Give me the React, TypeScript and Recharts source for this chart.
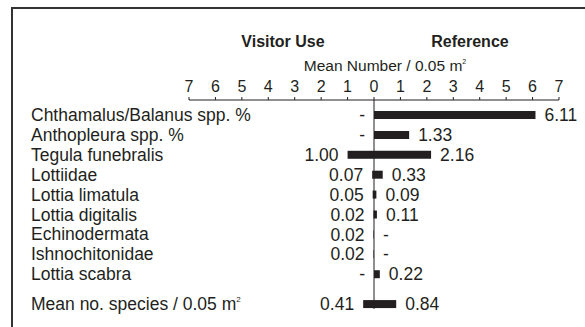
import { BarChart, Bar, XAxis, YAxis, ReferenceLine, LabelList } from 'recharts';

const categories = [
  'Chthamalus/Balanus spp. %',
  'Anthopleura spp. %',
  'Tegula funebralis',
  'Lottiidae',
  'Lottia limatula',
  'Lottia digitalis',
  'Echinodermata',
  'Ishnochitonidae',
  'Lottia scabra',
  'Mean no. species / 0.05 m',
];
const visitorUse = [0, 0, 1.0, 0.07, 0.05, 0.02, 0.02, 0.02, 0, 0.41];
const reference = [6.11, 1.33, 2.16, 0.33, 0.09, 0.11, 0, 0, 0.22, 0.84];
const axisTicks = [-7, -6, -5, -4, -3, -2, -1, 0, 1, 2, 3, 4, 5, 6, 7];

const FONT = '"Liberation Sans", Arial, Helvetica, sans-serif';
const INK = '#231f20';

// last row (the summary) sits half a row lower than the species rows
const rows = categories.map((name, i) => ({
  row: i === categories.length - 1 ? i + 0.5 : i,
  name,
  visitor: visitorUse[i] === 0 ? 0 : -visitorUse[i],
  reference: reference[i],
}));

function CategoryTick(props: any) {
  const { y, payload } = props;
  const entry = rows.find((r) => r.row === payload.value);
  if (!entry) return null;
  const isSummary = entry.row !== Math.round(entry.row);
  return (
    <text x={31} y={y} dy="0.35em" fontSize={17.5} fontFamily={FONT} fill={INK} textAnchor="start">
      {entry.name}
      {isSummary ? (
        <tspan fontSize={8} dy={-8}>
          2
        </tspan>
      ) : null}
    </text>
  );
}

// zero values are shown as "-"
function valueLabel(side: 'left' | 'right') {
  return (p: any) => {
    const vb = p.viewBox ?? p;
    const x0 = Number(vb.x);
    const w = Number(vb.width) || 0;
    const y = Number(vb.y) + (Number(vb.height) || 0) / 2;
    const raw = p.value;
    const v = Array.isArray(raw) ? Math.abs(raw[1] - raw[0]) : Math.abs(Number(raw));
    const tx = side === 'left' ? Math.min(x0, x0 + w) - 9 : Math.max(x0, x0 + w) + 9;
    return (
      <text
        key={`${side}-${y}`}
        x={tx}
        y={y}
        dy="0.35em"
        fontSize={17.5}
        fontFamily={FONT}
        fill={INK}
        textAnchor={side === 'left' ? 'end' : 'start'}
      >
        {v === 0 ? '-' : v.toFixed(2)}
      </text>
    );
  };
}

export default function App() {
  return (
    <div style={{ position: 'absolute', left: 0, top: 0, width: 585, height: 327, overflow: 'hidden', background: '#fff' }}>
      <div
        style={{
          position: 'absolute',
          left: 11,
          top: 7,
          width: 620,
          height: 360,
          border: '2px solid #333',
        }}
      />
      <BarChart
        width={585}
        height={327}
        data={rows}
        layout="vertical"
        stackOffset="sign"
        margin={{ top: 70, right: 26, bottom: 18, left: 31 }}
        style={{ position: 'absolute', left: 0, top: 0 }}
      >
        <XAxis
          type="number"
          orientation="top"
          domain={[-7, 7]}
          ticks={axisTicks}
          interval={0}
          tickFormatter={(v: number) => String(Math.abs(v))}
          height={30}
          tickSize={3}
          tickMargin={5}
          tick={{ fill: INK, fontSize: 16, fontFamily: FONT }}
          axisLine={{ stroke: INK }}
          tickLine={{ stroke: INK }}
        />
        <YAxis
          type="number"
          dataKey="row"
          domain={[-0.75, 9.75]}
          ticks={rows.map((r) => r.row)}
          interval={0}
          width={158}
          axisLine={false}
          tickLine={false}
          tick={<CategoryTick />}
        />
        <ReferenceLine x={0} stroke={INK} strokeWidth={1} />
        <Bar dataKey="visitor" stackId="a" barSize={8} fill={INK} minPointSize={0.01} isAnimationActive={false}>
          <LabelList dataKey="visitor" content={valueLabel('left')} />
        </Bar>
        <Bar dataKey="reference" stackId="a" barSize={8} fill={INK} minPointSize={0.01} isAnimationActive={false}>
          <LabelList dataKey="reference" content={valueLabel('right')} />
        </Bar>
      </BarChart>
      <svg width={585} height={327} style={{ position: 'absolute', left: 0, top: 0, pointerEvents: 'none' }}>
        <text x={283} y={41} dy="0.35em" textAnchor="middle" fontSize={16} fontWeight="bold" fontFamily={FONT} fill={INK}>
          Visitor Use
        </text>
        <text x={470} y={41} dy="0.35em" textAnchor="middle" fontSize={16} fontWeight="bold" fontFamily={FONT} fill={INK}>
          Reference
        </text>
        <text x={385} y={66} dy="0.35em" textAnchor="middle" fontSize={15.5} fontFamily={FONT} fill={INK}>
          Mean Number / 0.05 m
          <tspan fontSize={7} dy={-7}>
            2
          </tspan>
        </text>
      </svg>
    </div>
  );
}
